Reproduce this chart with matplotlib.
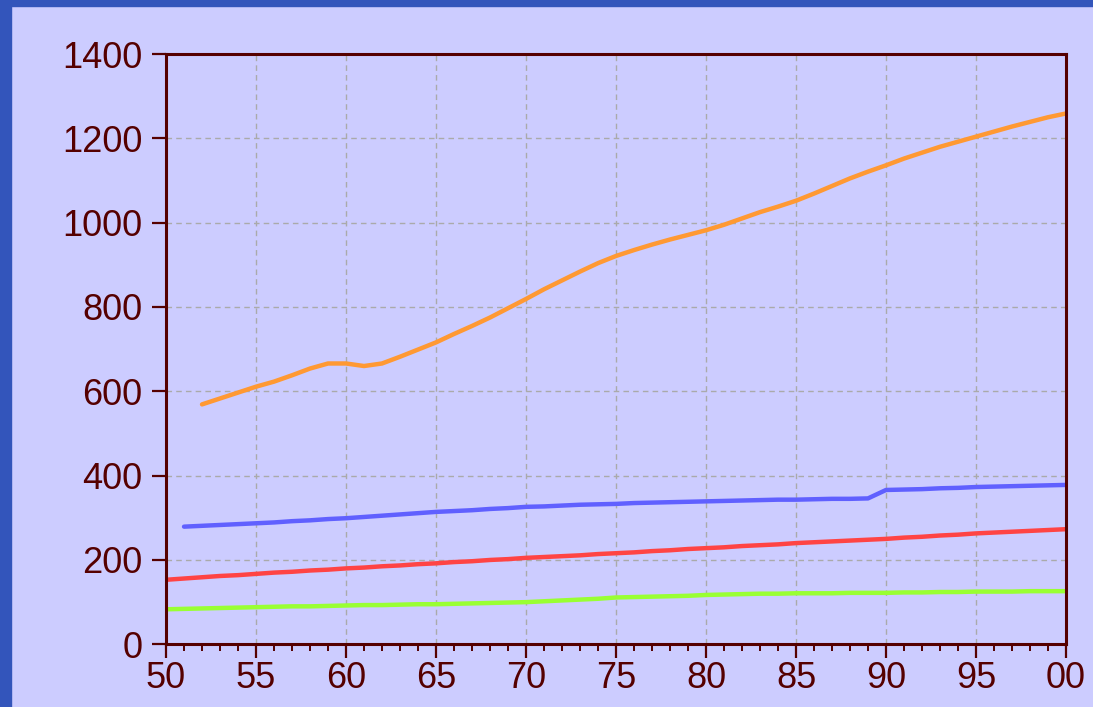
import numpy as np
import matplotlib.pyplot as plt
import matplotlib
from matplotlib.patches import Rectangle
from matplotlib.ticker import MultipleLocator

matplotlib.rcParams.update({"font.family": ["Liberation Sans", "DejaVu Sans"]})

years = np.arange(1950, 2001)

# orange series (starts 1952)
orange_years = np.arange(1952, 2001)
orange = [569, 583, 597, 611, 623, 638, 654, 666, 666, 660,
          666, 682, 699, 716, 736, 755, 775, 797, 819, 842,
          863, 884, 904, 921, 935, 948, 960, 971, 982, 995,
          1010, 1025, 1038, 1052, 1069, 1087, 1105, 1121, 1136, 1152,
          1166, 1180, 1192, 1204, 1216, 1228, 1239, 1250, 1259]

# blue series (starts 1951)
blue_years = np.arange(1951, 2001)
blue = [279, 281, 283, 285, 287, 289, 292, 294, 297, 299,
        302, 305, 308, 311, 314, 316, 318, 321, 323, 326,
        327, 329, 331, 332, 333, 335, 336, 337, 338, 339,
        340, 341, 342, 343, 343, 344, 345, 345, 346, 366,
        367, 368, 370, 371, 373, 374, 375, 376, 377, 378]

red = [153, 156, 159, 162, 164, 167, 170, 172, 175, 177,
       180, 182, 185, 187, 190, 192, 195, 197, 200, 202,
       205, 207, 209, 211, 214, 216, 218, 221, 223, 226,
       228, 230, 233, 235, 237, 240, 242, 244, 246, 248,
       250, 253, 255, 258, 260, 263, 265, 267, 269, 271, 273]

green = [83, 84, 85, 86, 87, 88, 89, 90, 90, 91,
         92, 93, 93, 94, 95, 95, 96, 97, 98, 99,
         100, 102, 104, 106, 108, 111, 112, 113, 114, 115,
         117, 118, 119, 120, 120, 121, 121, 121, 122, 122,
         122, 123, 123, 124, 124, 125, 125, 125, 126, 126, 126]

xtick_labels = ["50", "55", "60", "65", "70", "75", "80", "85", "90", "95", "00"]

bg = "#CCCCFF"
dark = "#550000"

fig = plt.figure(figsize=(10.93, 7.07), dpi=100, facecolor=bg)
ax = fig.add_axes([0.1519, 0.0887, 0.8234, 0.8349])
ax.set_facecolor(bg)

# blue frame on left and top
fig.patches.append(Rectangle((0, 0), 11 / 1093, 1, transform=fig.transFigure,
                             color="#3355BB", zorder=0))
fig.patches.append(Rectangle((0, 1 - 6 / 707), 1, 6 / 707, transform=fig.transFigure,
                             color="#3355BB", zorder=0))

ax.plot(orange_years, orange, color="#FF9933", lw=3.2, solid_capstyle="round")
ax.plot(blue_years, blue, color="#6060FF", lw=3.2, solid_capstyle="round")
ax.plot(years, red, color="#FF4444", lw=3.2)
ax.plot(years, green, color="#99FF33", lw=3.2)

ax.set_xlim(1950, 2000)
ax.set_ylim(0, 1400)

ax.set_xticks(np.arange(1950, 2001, 5))
ax.set_xticklabels(xtick_labels)
ax.xaxis.set_minor_locator(MultipleLocator(1))
ax.set_yticks(np.arange(0, 1401, 200))

ax.grid(True, which="major", color="#AAAAAA", ls=(0, (4, 3)), lw=1)

for s in ax.spines.values():
    s.set_color(dark)
    s.set_linewidth(2.2)

ax.tick_params(axis="x", which="major", length=10, width=1.6, color=dark,
               labelcolor=dark, labelsize=26, pad=2)
ax.tick_params(axis="x", which="minor", length=5, width=1.4, color=dark)
ax.tick_params(axis="y", which="major", length=10, width=1.6, color=dark,
               labelcolor=dark, labelsize=26, pad=7)

plt.savefig("out.png", dpi=100, facecolor=bg)
